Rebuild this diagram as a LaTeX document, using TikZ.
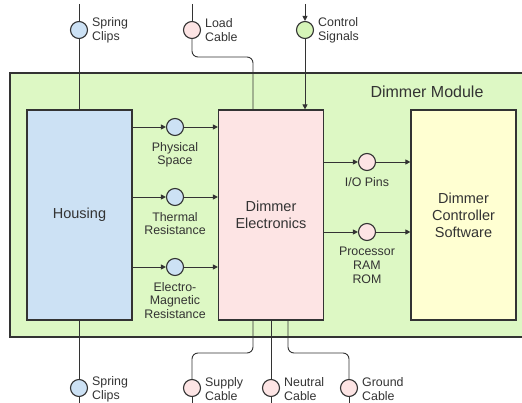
\documentclass[tikz,border=0pt]{standalone}
\usepackage{fontspec}
\setmainfont{Liberation Sans}
\usetikzlibrary{arrows.meta}
\definecolor{modfill}{HTML}{DDF8C4}
\definecolor{bluefill}{HTML}{CCE1F4}
\definecolor{pinkfill}{HTML}{FDE4E4}
\definecolor{yellowfill}{HTML}{FFFFD2}
\definecolor{greenfill}{HTML}{D6F5B8}
\definecolor{ink}{HTML}{333333}
\begin{document}
\begin{tikzpicture}[x=1pt,y=-1pt,
  every node/.style={text=ink},
  box/.style={draw=ink,line width=1.2pt,rectangle,minimum width=105pt,minimum height=210pt,align=center,font=\fontsize{14.5}{17}\selectfont,inner sep=0pt},
  port/.style={draw=ink,line width=1.1pt,circle,minimum size=17pt,inner sep=0pt},
  lbl/.style={align=center,font=\fontsize{12.4}{13.8}\selectfont,inner sep=1pt},
  wire/.style={draw=ink,line width=0.9pt},
  arr/.style={wire,-{Triangle[length=5pt,width=5pt]}},
  rc/.style={rounded corners=6pt}]
\useasboundingbox (0,0) rectangle (522,403);
% module
\node[draw=ink,line width=1.2pt,fill=modfill,rectangle,minimum width=520pt,minimum height=264pt,inner sep=0pt] (mod) at (270,205) {};
\node[font=\fontsize{16}{19}\selectfont,inner sep=0pt] (modl) at (427,92) {Dimmer Module};
% boxes
\node[box,fill=bluefill] (hous) at (79.5,215) {Housing};
\node[box,fill=pinkfill] (elec) at (271,215) {Dimmer\\Electronics};
\node[box,fill=yellowfill] (soft) at (463.5,215) {Dimmer\\Controller\\Software};
% middle ports (housing -> electronics)
\node[port,fill=bluefill] (p1) at (175,127) {};
\node[port,fill=bluefill] (p2) at (175,197) {};
\node[port,fill=bluefill] (p3) at (175,267) {};
\node[lbl,anchor=north] (p1l) at (175,141) {Physical\\Space};
\node[lbl,anchor=north] (p2l) at (175,211) {Thermal\\Resistance};
\node[lbl,anchor=north] (p3l) at (175,281) {Electro-\\Magnetic\\Resistance};
\foreach \p in {p1,p2,p3}{
  \draw[arr] (hous.east |- \p) -- (\p.west);
  \draw[arr] (\p.east) -- (elec.west |- \p);
}
% right ports (electronics -> software)
\node[port,fill=pinkfill] (q1) at (367,162) {};
\node[port,fill=pinkfill] (q2) at (367,232) {};
\node[lbl,anchor=north] (q1l) at (367,176) {I/O Pins};
\node[lbl,anchor=north] (q2l) at (367,246) {Processor\\RAM\\ROM};
\foreach \p in {q1,q2}{
  \draw[arr] (elec.east |- \p) -- (\p.west);
  \draw[arr] (\p.east) -- (soft.west |- \p);
}
% top ports
\node[port,fill=bluefill] (tsc) at (79,30) {};
\node[port,fill=pinkfill] (tlc) at (192,30) {};
\node[port,fill=greenfill] (tcs) at (305,30) {};
\node[lbl,anchor=west,align=left] (tscl) at (91,30) {Spring\\Clips};
\node[lbl,anchor=west,align=left] (tlcl) at (204,30) {Load\\Cable};
\node[lbl,anchor=west,align=left] (tcsl) at (317,30) {Control\\Signals};
\coordinate (tsc0) at (79,4);
\coordinate (tlc0) at (192,4);
\coordinate (tcs0) at (305,4);
\draw[wire] (tsc0) -- (tsc.north);
\draw[wire] (tsc.south) -- (hous.north -| tsc);
\draw[wire] (tlc0) -- (tlc.north);
\draw[wire,rc] (tlc.south) -- (192,57) -- (253,57) -- (253,110);
\draw[arr] (tcs0) -- (tcs.north);
\draw[arr] (tcs.south) -- (elec.north -| tcs);
% bottom ports
\node[port,fill=bluefill] (bsc) at (79,388) {};
\node[port,fill=pinkfill] (bsu) at (192,388) {};
\node[port,fill=pinkfill] (bne) at (271,388) {};
\node[port,fill=pinkfill] (bgr) at (349,388) {};
\node[lbl,anchor=west,align=left] (bscl) at (91,389) {Spring\\Clips};
\node[lbl,anchor=west,align=left] (bsul) at (204,389) {Supply\\Cable};
\node[lbl,anchor=west,align=left] (bnel) at (283,389) {Neutral\\Cable};
\node[lbl,anchor=west,align=left] (bgrl) at (361,389) {Ground\\Cable};
\coordinate (bsc0) at (79,403);
\coordinate (bsu0) at (192,403);
\coordinate (bne0) at (271,403);
\coordinate (bgr0) at (349,403);
\draw[wire] (hous.south -| bsc) -- (bsc.north);
\draw[wire] (bsc.south) -- (bsc0);
\draw[wire,rc] (253,320) -- (253,353) -- (192,353) -- (bsu.north);
\draw[wire] (bsu.south) -- (bsu0);
\draw[wire] (elec.south -| bne) -- (bne.north);
\draw[wire] (bne.south) -- (bne0);
\draw[wire,rc] (288,320) -- (288,353) -- (349,353) -- (bgr.north);
\draw[wire] (bgr.south) -- (bgr0);
\end{tikzpicture}
\end{document}
